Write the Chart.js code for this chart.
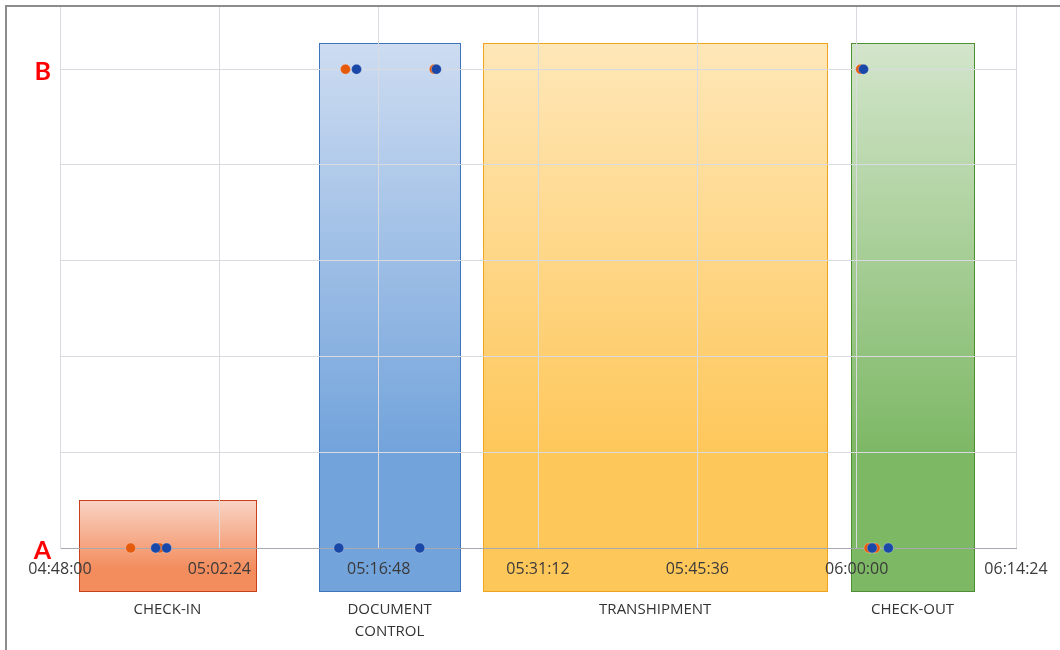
<!DOCTYPE html>
<html>
<head>
<meta charset="utf-8">
<script src="https://cdn.jsdelivr.net/npm/chart.js@4.4.1/dist/chart.umd.min.js"></script>
<style>
    html, body { margin: 0; padding: 0; background: #fff; }
    #wrap { position: relative; width: 1060px; height: 650px; }
    #frame {
        position: absolute; left: 5px; top: 5px; right: 0; bottom: 0;
        border-left: 2px solid #8c8c8c; border-top: 2px solid #8c8c8c;
        pointer-events: none;
    }
</style>
</head>
<body>
<div id="wrap">
    <canvas id="chart" width="1060" height="650"></canvas>
    <div id="frame"></div>
</div>
<script>
// levels on the y axis
const levels = ['A', 'B'];

// x axis ticks
const timeTicks = ['04:48:00', '05:02:24', '05:16:48', '05:31:12', '05:45:36', '06:00:00', '06:14:24'];

// process phases (background boxes)
const phaseNames = ['CHECK-IN', 'DOCUMENT CONTROL', 'TRANSHIPMENT', 'CHECK-OUT'];
const phaseStart = ['04:49:43', '05:11:23', '05:26:14', '05:59:28'];
const phaseEnd = ['05:05:42', '05:24:11', '05:57:21', '06:10:38'];
const phaseTop = [0.1, 1.055, 1.055, 1.055];

// orange series
const orangeTimes = ['04:54:23', '04:57:00', '05:13:48', '05:21:50', '06:00:22', '06:01:07', '06:01:40'];
const orangeLevels = ['A', 'A', 'B', 'B', 'B', 'A', 'A'];

// blue series
const blueTimes = ['04:56:39', '04:57:38', '05:13:12', '05:20:31', '05:14:48', '05:22:01', '06:00:37', '06:01:24', '06:02:52'];
const blueLevels = ['A', 'A', 'A', 'A', 'B', 'B', 'B', 'A', 'A'];

const toSec = (s) => {
    const [h, m, sec] = s.split(':').map(Number);
    return h * 3600 + m * 60 + sec;
};
const fmt = (v) => {
    const h = Math.floor(v / 3600);
    const m = Math.floor((v % 3600) / 60);
    const s = Math.round(v % 60);
    return [h, m, s].map((n) => String(n).padStart(2, '0')).join(':');
};
const levelValue = (l) => levels.indexOf(l);

const xMin = toSec(timeTicks[0]);
const xMax = toSec(timeTicks[timeTicks.length - 1]);
const xStep = toSec(timeTicks[1]) - xMin;

const phaseStyles = [
    { top: '#f9d4c5', bottom: '#f38d5e', border: '#c8401a' },
    { top: '#cddcf1', bottom: '#72a3db', border: '#3d74ba' },
    { top: '#ffe7b8', bottom: '#fec75a', border: '#f0a31c' },
    { top: '#d3e5cb', bottom: '#7db865', border: '#4f8f33' },
];
const boxBottom = -0.09;

const phaseBoxes = {
    id: 'phaseBoxes',
    beforeDraw(chart) {
        const { ctx, scales: { x, y } } = chart;
        ctx.save();
        phaseNames.forEach((name, i) => {
            const left = Math.round(x.getPixelForValue(toSec(phaseStart[i])));
            const right = Math.round(x.getPixelForValue(toSec(phaseEnd[i])));
            const top = Math.round(y.getPixelForValue(phaseTop[i]));
            const bottom = Math.round(y.getPixelForValue(boxBottom));
            const st = phaseStyles[i];
            const grad = ctx.createLinearGradient(0, top, 0, bottom);
            grad.addColorStop(0, st.top);
            grad.addColorStop(0.75, st.bottom);
            grad.addColorStop(1, st.bottom);
            ctx.fillStyle = grad;
            ctx.fillRect(left, top, right - left, bottom - top);
            ctx.strokeStyle = st.border;
            ctx.lineWidth = 1;
            ctx.strokeRect(left + 0.5, top + 0.5, right - left, bottom - top);
        });
        ctx.restore();
    },
};

const pointOptions = {
    pointRadius: 5,
    pointHoverRadius: 5,
    borderWidth: 0.5,
    pointBorderColor: 'rgba(255, 255, 255, 0.5)',
    showLine: false,
    clip: false,
};

new Chart(document.getElementById('chart').getContext('2d'), {
    type: 'scatter',
    data: {
        datasets: [
            {
                ...pointOptions,
                label: 'Series 1',
                order: 2,
                backgroundColor: '#e65a0c',
                pointBackgroundColor: '#e65a0c',
                data: orangeTimes.map((t, i) => ({ x: toSec(t), y: levelValue(orangeLevels[i]) })),
            },
            {
                ...pointOptions,
                label: 'Series 2',
                order: 1,
                backgroundColor: '#1a48a8',
                pointBackgroundColor: '#1a48a8',
                data: blueTimes.map((t, i) => ({ x: toSec(t), y: levelValue(blueLevels[i]) })),
            },
        ],
    },
    plugins: [phaseBoxes],
    options: {
        responsive: false,
        animation: false,
        events: [],
        layout: {
            padding: { left: 0, right: 44, top: 7, bottom: 0 },
        },
        plugins: {
            legend: { display: false },
            tooltip: { enabled: false },
        },
        scales: {
            x: {
                type: 'linear',
                position: 'bottom',
                weight: 0,
                min: xMin,
                max: xMax,
                afterBuildTicks: (scale) => {
                    scale.ticks = timeTicks.map((t) => ({ value: toSec(t) }));
                },
                afterFit: (scale) => {
                    scale.height = 43;
                },
                ticks: {
                    stepSize: xStep,
                    autoSkip: false,
                    maxRotation: 0,
                    padding: 12,
                    color: '#3a3a3a',
                    font: { family: 'Open Sans', size: 16 },
                    callback: (v) => fmt(v),
                },
                grid: {
                    color: '#d9dbe0',
                    drawTicks: false,
                },
                border: {
                    color: '#a6a9af',
                },
            },
            xPhase: {
                type: 'linear',
                position: 'bottom',
                weight: 1,
                min: xMin,
                max: xMax,
                afterBuildTicks: (scale) => {
                    scale.ticks = phaseNames.map((n, i) => ({
                        value: (toSec(phaseStart[i]) + toSec(phaseEnd[i])) / 2,
                    }));
                },
                afterFit: (scale) => {
                    scale.height = 59;
                },
                ticks: {
                    autoSkip: false,
                    maxRotation: 0,
                    padding: 8,
                    color: '#333333',
                    font: { family: 'Open Sans', size: 15, lineHeight: 1.47 },
                    callback: (v, i) => {
                        const name = phaseNames[i];
                        return name === 'DOCUMENT CONTROL' ? name.split(' ') : name;
                    },
                },
                grid: { display: false, drawTicks: false },
                border: { display: false },
            },
            y: {
                type: 'linear',
                position: 'left',
                min: 0,
                max: 1.13,
                afterFit: (scale) => {
                    scale.width = 60;
                    scale.paddingTop = 0;
                    scale.paddingBottom = 0;
                },
                ticks: {
                    stepSize: 0.2,
                    includeBounds: false,
                    padding: 9,
                    labelOffset: 3,
                    color: '#ff0000',
                    font: { family: 'Lato', size: 25, weight: 'bold' },
                    callback: (v) => {
                        const i = levels.findIndex((l, k) => Math.abs(v - k) < 1e-6);
                        return i >= 0 ? levels[i] : '';
                    },
                },
                grid: {
                    color: '#d9dbe0',
                    drawTicks: false,
                },
                border: {
                    color: '#d9dbe0',
                },
            },
        },
    },
});
</script>
</body>
</html>
